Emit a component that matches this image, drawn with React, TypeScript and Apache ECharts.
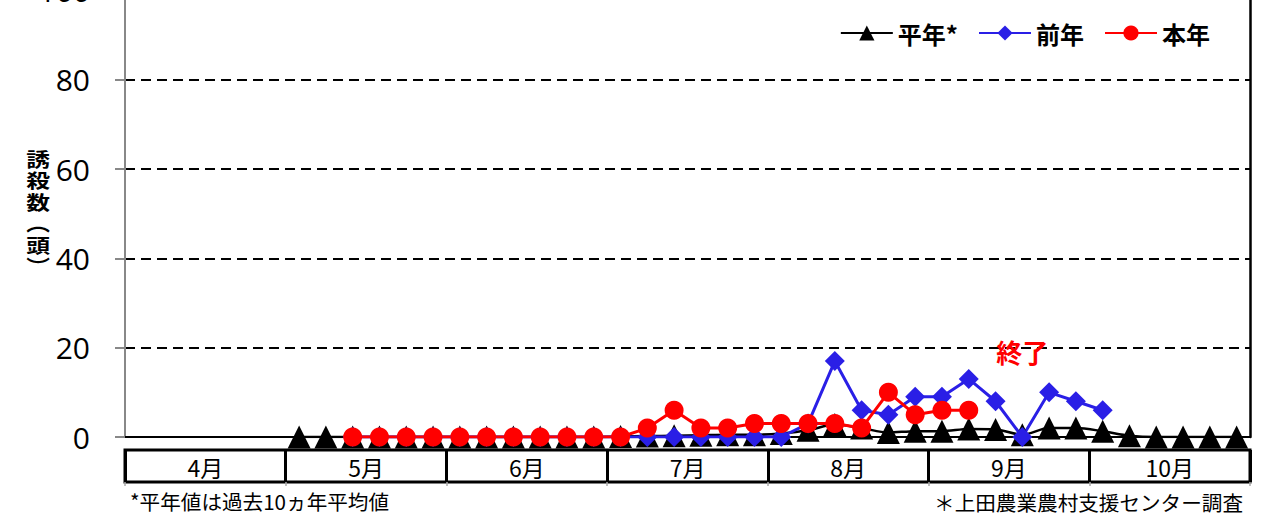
import React, { useEffect, useRef } from 'react';
import * as echarts from 'echarts';

const MONTHS = ['4月', '5月', '6月', '7月', '8月', '9月', '10月'];
const PERIODS = ['1', '2', '3', '4', '5', '6'];
const CATEGORIES = MONTHS.flatMap((m) => PERIODS.map((p) => `${m}第${p}半旬`));

const Y_TICKS = { min: 0, max: 100, interval: 20 };

// 平年* (過去10ヵ年平均値)
const HEINEN = [
  null, null, null, null, null, null,
  0, 0, 0, 0, 0, 0,
  0, 0, 0, 0, 0, 0,
  0.1, 0.2, 0.3, 0.4, 0.5, 0.5,
  0.8, 1.5, 2.8, 2, 1, 1.3,
  1.3, 1.8, 1.7, 0.5, 2, 2,
  1.3, 0.3, 0, 0, 0, 0,
];

// 前年
const ZENNEN = [
  null, null, null, null, null, null,
  null, null, 0, 0, 0, 0,
  0, 0, 0, 0, 0, 0,
  0, 0, 0, 0, 0, 0,
  0, 3, 17, 6, 5, 9,
  9, 13, 8, 0, 10, 8,
  6, null, null, null, null, null,
];

// 本年
const HONNEN = [
  null, null, null, null, null, null,
  null, null, 0, 0, 0, 0,
  0, 0, 0, 0, 0, 0,
  0, 2, 6, 2, 2, 3,
  3, 3, 3, 2, 10, 5,
  6, 6, null, null, null, null,
  null, null, null, null, null, null,
];

const END_NOTE = { text: '終了', category: CATEGORIES[33], value: 19.2 };

const JP = "'Noto Sans CJK JP', 'Noto Sans', sans-serif";

export default function App() {
  const ref = useRef<HTMLDivElement>(null);

  useEffect(() => {
    const chart = echarts.init(ref.current!, null, { renderer: 'svg' });
    chart.setOption({
      animation: false,
      backgroundColor: '#fff',
      grid: [
        { left: 125, right: 15, top: -9.6, bottom: 79, containLabel: false, outerBoundsMode: 'none' },
        {
          left: 125,
          right: 15,
          top: 450,
          bottom: 34,
          show: true,
          borderColor: '#000',
          borderWidth: 3,
          backgroundColor: 'rgba(0,0,0,0)',
          containLabel: false,
          outerBoundsMode: 'none',
        },
      ],
      legend: {
        data: ['平年*', '前年', '本年'],
        right: 50,
        top: 16,
        itemWidth: 52,
        itemHeight: 19,
        itemGap: 20,
        textStyle: { fontSize: 24, fontWeight: 'bold', color: '#000', fontFamily: JP },
      },
      xAxis: [
        {
          type: 'category',
          gridIndex: 0,
          data: CATEGORIES,
          boundaryGap: true,
          axisLine: { show: true, lineStyle: { color: '#000', width: 2 } },
          axisTick: { show: false },
          axisLabel: { show: false },
          splitLine: { show: false },
        },
        {
          type: 'category',
          gridIndex: 1,
          data: MONTHS,
          position: 'bottom',
          boundaryGap: true,
          axisLine: { show: false },
          axisTick: { show: true, inside: true, length: 32, interval: 0, lineStyle: { color: '#000', width: 3 } },
          axisLabel: { show: true, inside: true, margin: 4, interval: 0, fontSize: 23, color: '#000', fontFamily: JP },
          splitLine: { show: false },
        },
        {
          type: 'category',
          gridIndex: 1,
          data: MONTHS,
          position: 'bottom',
          boundaryGap: true,
          axisLine: { show: false },
          axisTick: { show: true, inside: false, length: 4, interval: 0, lineStyle: { color: '#aaa', width: 1.5 } },
          axisLabel: { show: false },
          splitLine: { show: false },
        },
      ],
      yAxis: [
        {
          type: 'value',
          gridIndex: 0,
          ...Y_TICKS,
          axisLine: { show: true, lineStyle: { color: '#888', width: 2 } },
          axisTick: { show: true, length: 10, lineStyle: { color: '#888', width: 2 } },
          axisLabel: { fontSize: 30, color: '#000', margin: 35, fontFamily: "'Open Sans', 'Noto Sans', sans-serif" },
          splitLine: { show: true, lineStyle: { color: '#000', type: [10, 6], width: 2 } },
        },
        {
          type: 'value',
          gridIndex: 0,
          position: 'right',
          ...Y_TICKS,
          axisLine: { show: true, lineStyle: { color: '#000', width: 2.5 } },
          axisTick: { show: false },
          axisLabel: { show: false },
          splitLine: { show: false },
        },
        {
          type: 'value',
          gridIndex: 1,
          show: false,
        },
      ],
      series: [
        {
          name: '平年*',
          type: 'line',
          xAxisIndex: 0,
          yAxisIndex: 0,
          data: HEINEN,
          symbol: 'triangle',
          symbolSize: 23,
          showSymbol: true,
          showAllSymbol: true,
          smooth: 0.3,
          itemStyle: { color: '#000' },
          lineStyle: { color: '#000', width: 2.5 },
        },
        {
          name: '前年',
          type: 'line',
          xAxisIndex: 0,
          yAxisIndex: 0,
          data: ZENNEN,
          symbol: 'diamond',
          symbolSize: 20,
          showSymbol: true,
          showAllSymbol: true,
          itemStyle: { color: '#2A1FE6' },
          lineStyle: { color: '#2A1FE6', width: 3 },
        },
        {
          name: '本年',
          type: 'line',
          xAxisIndex: 0,
          yAxisIndex: 0,
          data: HONNEN,
          symbol: 'circle',
          symbolSize: 19,
          showSymbol: true,
          showAllSymbol: true,
          itemStyle: { color: '#FF0000' },
          lineStyle: { color: '#FF0000', width: 3 },
          markPoint: {
            symbol: 'rect',
            symbolSize: 1,
            itemStyle: { color: 'rgba(0,0,0,0)' },
            label: {
              show: true,
              position: 'inside',
              formatter: END_NOTE.text,
              color: '#FF0000',
              fontSize: 26,
              fontWeight: 'bold',
              fontFamily: JP,
            },
            data: [{ coord: [END_NOTE.category, END_NOTE.value] }],
          },
        },
      ],
      graphic: [
        {
          type: 'text',
          x: 38,
          y: 212,
          scaleX: 1.25,
          style: {
            text: '誘\n殺\n数\n︵\n頭\n︶',
            fontSize: 19,
            fontWeight: 'bold',
            lineHeight: 21.5,
            align: 'center',
            verticalAlign: 'middle',
            fill: '#000',
            fontFamily: JP,
          },
        },
        {
          type: 'text',
          x: 130,
          y: 501,
          style: {
            text: '*平年値は過去10ヵ年平均値',
            fontSize: 20.6,
            align: 'left',
            verticalAlign: 'middle',
            fill: '#000',
            fontFamily: JP,
          },
        },
        {
          type: 'text',
          x: 1243,
          y: 502,
          style: {
            text: '＊上田農業農村支援センター調査',
            fontSize: 20.6,
            align: 'right',
            verticalAlign: 'middle',
            fill: '#000',
            fontFamily: JP,
          },
        },
      ],
    });
    return () => chart.dispose();
  }, []);

  return (
    <div
      ref={ref}
      style={{ position: 'absolute', left: 0, top: 0, width: 1265, height: 516 }}
    />
  );
}
